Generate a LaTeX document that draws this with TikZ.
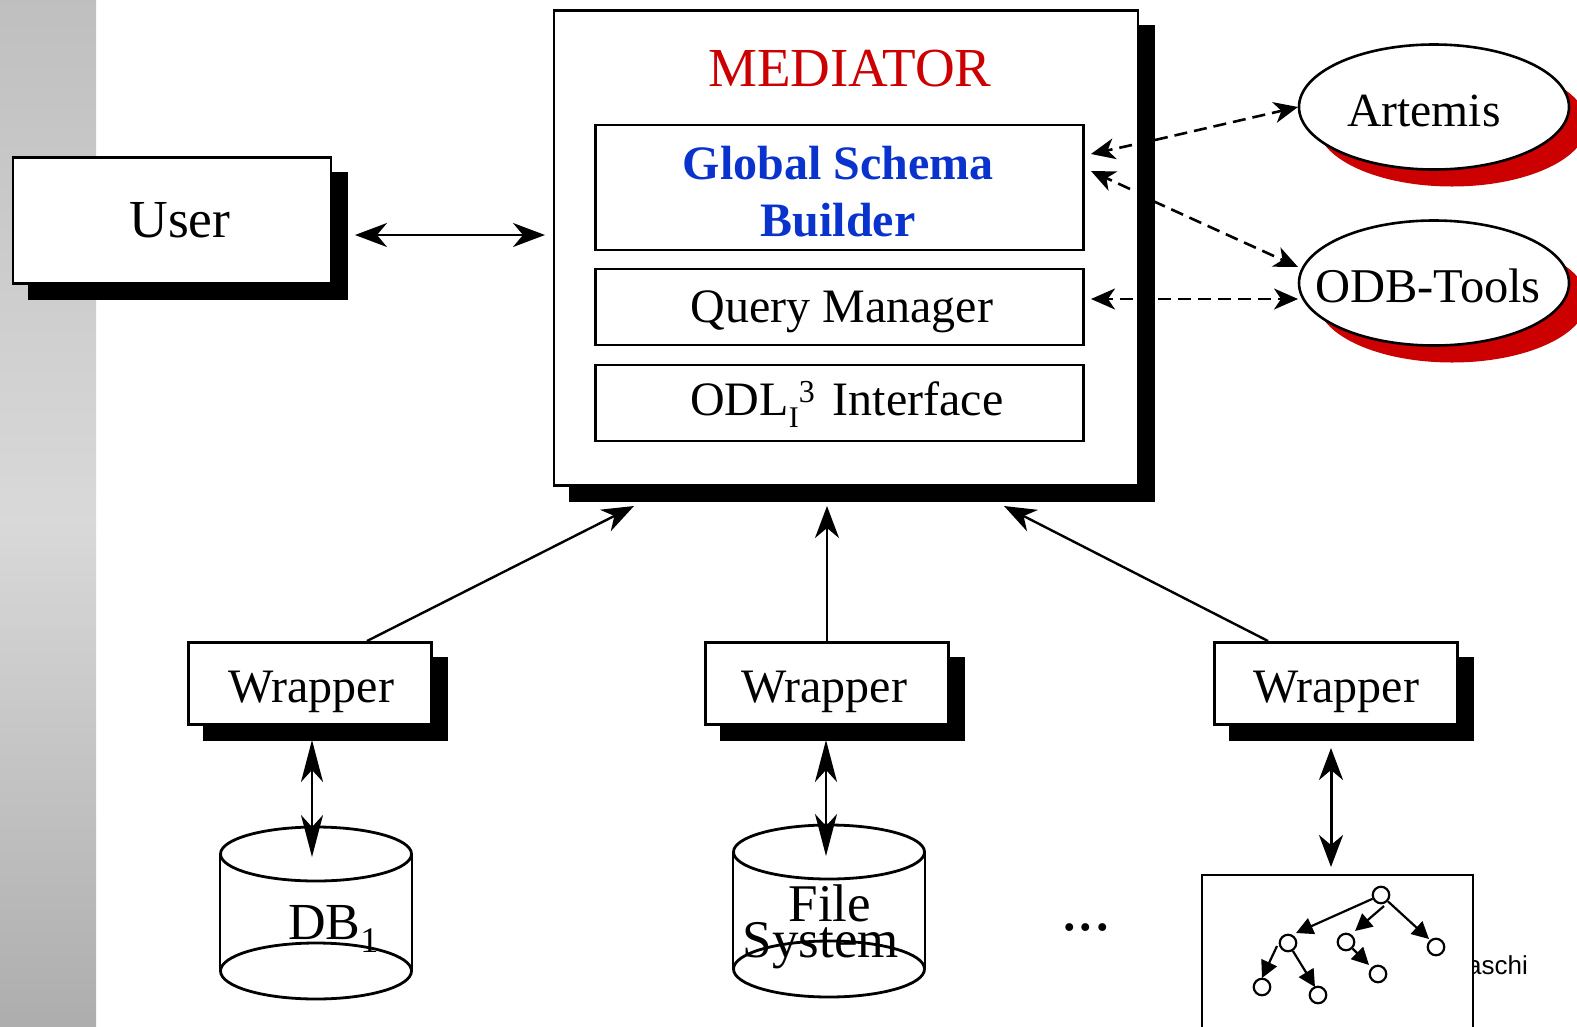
\documentclass[tikz,border=0pt]{standalone}
\usepackage{fontspec}
\setmainfont{Liberation Serif}
\newfontfamily\sansf{Liberation Sans}
\usetikzlibrary{arrows.meta,shapes.geometric,shadings}
\definecolor{medred}{RGB}{204,0,0}
\definecolor{gsblue}{RGB}{10,50,205}
\tikzset{
  box/.style={draw=black,line width=2.8pt,fill=white,inner sep=0pt,anchor=north west},
  shadowbox/.style={fill=black,draw=none,inner sep=0pt,anchor=north west},
  ell/.style={ellipse,draw=black,line width=2.6pt,fill=white,inner sep=0pt,minimum width=270pt,minimum height=125pt},
  ellshadow/.style={ellipse,fill=medred,draw=none,inner sep=0pt,minimum width=270pt,minimum height=125pt},
  lab/.style={inner sep=0pt},
  bighead/.tip={Stealth[inset=10pt,length=32pt,width=24pt]},
  longhead/.tip={Stealth[inset=12pt,length=42pt,width=22pt]},
  dashhead/.tip={Stealth[inset=7pt,length=24pt,width=21pt]},
  conn/.style={line width=2.4pt,{bighead}-{bighead}},
  connone/.style={line width=2.4pt,-{bighead}},
  connlong/.style={line width=2.4pt,{longhead}-{longhead}},
  dashend/.style={line width=2.6pt,dash pattern=on 13pt off 7pt,-{dashhead}},
  tip/.style={line width=2.2pt,-{Triangle[length=17pt,width=17pt]}},
  cir/.style={circle,draw=black,line width=2.2pt,fill=white,minimum size=16.5pt,inner sep=0pt},
  cyl/.style={line width=2.8pt}
}
\newcommand{\sizedbox}[5]{% name x y w h
  \pgfmathsetmacro{\sbw}{#4+2}\pgfmathsetmacro{\sbh}{#5+2}
  \node[shadowbox,minimum width=\sbw pt,minimum height=\sbh pt] at (#2+16,#3+16) {};
  \node[box,minimum width=#4 pt,minimum height=#5 pt] (#1) at (#2,#3) {};
}
\begin{document}
\begin{tikzpicture}[x=1pt,y=-1pt]
\useasboundingbox (0,0) rectangle (1577,1026);
\fill[white] (0,0) rectangle (1577,1026);
% left band
\shade[top color=black!25,bottom color=black!15,draw=none] (0,0) rectangle (96,520);
\shade[top color=black!15,bottom color=black!32,draw=none] (0,520) rectangle (96,1026);
% footer residue
\node[font=\sansf\fontsize{26}{26}\selectfont,anchor=base east,inner sep=0pt] (foot) at (1528,974) {aschi};
% mediator
\sizedbox{med}{552.5}{9}{584}{475}
\node[lab,font=\fontsize{55}{55}\selectfont,text=medred] (medt) at (850,69) {MEDIATOR};
\node[box,minimum width=488pt,minimum height=125pt] (gsb) at (594,123.5) {};
\node[font=\bfseries\fontsize{48}{48}\selectfont,text=gsblue,inner sep=0pt] (gsb1) at (838,163) {Global Schema};
\node[font=\bfseries\fontsize{48}{48}\selectfont,text=gsblue,inner sep=0pt] (gsb2) at (838,220) {Builder};
\node[box,minimum width=488pt,minimum height=76pt] (qm) at (594,267.5) {};
\node[lab,font=\fontsize{48}{48}\selectfont] (qmt) at (842,312) {Query Manager};
\node[box,minimum width=488pt,minimum height=76pt] (odl) at (594,363.5) {};
\node[lab,font=\fontsize{48}{48}\selectfont,anchor=base west] (odlt) at (690,415) {ODL\raisebox{-12pt}{\fontsize{30}{30}\selectfont I}\raisebox{13pt}{\fontsize{32}{32}\selectfont 3}\hspace{18pt}Interface};
% user
\sizedbox{user}{11.5}{156}{318}{126}
\node[lab,font=\fontsize{53.5}{53.5}\selectfont] (usert) at (180,220) {User};
% ellipses
\node[ellshadow] (arts) at (1452,124) {};
\node[ell] (art) at (1434,107) {};
\node[lab,font=\fontsize{47.6}{47.6}\selectfont] (artt) at (1424,111) {Artemis};
\node[ellshadow] (odbs) at (1452,300) {};
\node[ell] (odb) at (1434,283) {};
\node[lab,font=\fontsize{48.5}{48.5}\selectfont] (odbt) at (1428,286) {ODB-Tools};
% wrappers
\sizedbox{w1}{187}{641}{243}{82}
\sizedbox{w2}{704}{641}{243}{82}
\sizedbox{w3}{1213}{641}{243}{82}
\node[lab,font=\fontsize{48}{48}\selectfont] (w1t) at (311,692) {Wrapper};
\node[lab,font=\fontsize{48}{48}\selectfont] (w2t) at (824,692) {Wrapper};
\node[lab,font=\fontsize{48}{48}\selectfont] (w3t) at (1336,692) {Wrapper};
% cylinder DB
\draw[cyl] (220,854) -- (220,970) (412,854) -- (412,970);
\draw[cyl] (316,854) ellipse [x radius=95.5pt,y radius=27pt];
\draw[cyl] (316,971) ellipse [x radius=95.5pt,y radius=28pt];
\node[lab,font=\fontsize{52}{52}\selectfont,anchor=base west] (db) at (288,939) {DB\raisebox{-13pt}{\fontsize{36}{36}\selectfont 1}};
% cylinder FS
\draw[cyl] (733,852) -- (733,968) (925,852) -- (925,968);
\draw[cyl] (829,852) ellipse [x radius=95.5pt,y radius=27pt];
\draw[cyl] (829,969) ellipse [x radius=95.5pt,y radius=28pt];
\node[lab,font=\fontsize{53}{53}\selectfont] (fs1) at (830,903) {File};
\node[lab,font=\fontsize{53}{53}\selectfont] (fs2) at (821,946) {System};
% ellipsis
\node[lab,font=\fontsize{66}{66}\selectfont,anchor=base] (dots) at (1086,930) {...};
% tree box
\draw[line width=2.4pt,fill=white] (1202,1030) |- (1473,875) -- (1473,1030);
\coordinate (treebox) at (1331,875);
\node[cir] (t0) at (1381,895) {};
\node[cir] (t1) at (1288,943) {};
\node[cir] (t2) at (1262,987) {};
\node[cir] (t3) at (1318,995) {};
\node[cir] (t4) at (1346,942) {};
\node[cir] (t5) at (1378,974) {};
\node[cir] (t6) at (1436,947) {};
\coordinate (t1e) at (1296,933);
\coordinate (t6e) at (1429,939);
\coordinate (t3e) at (1315,987);
\coordinate (t2s) at (1277,946);
\coordinate (t2e) at (1262,978);
\coordinate (t5e) at (1369,965);
\coordinate (a1) at (1384,906);
\coordinate (a2) at (1355,931);
\draw[tip] (t0) -- (t1e);
\draw[tip] (a1) -- (a2);
\draw[tip] (t0) -- (t6e);
\draw[tip] (t2s) -- (t2e);
\draw[tip] (t1) -- (t3e);
\draw[tip] (t4) -- (t5e);
% connectors
\coordinate (u1) at (355,235);
\coordinate (u2) at (545,235);
\draw[conn] (u1) -- (u2);
\coordinate (w1a) at (367,641);
\coordinate (w1b) at (634,506);
\draw[connone] (w1a) -- (w1b);
\coordinate (w2a) at (827,641);
\coordinate (w2b) at (827,506);
\draw[connone] (w2a) -- (w2b);
\coordinate (w3a) at (1268,641);
\coordinate (w3b) at (1004,506);
\draw[connone] (w3a) -- (w3b);
\coordinate (d1a) at (312,740);
\coordinate (d1b) at (312,857);
\draw[connlong] (d1a) -- (d1b);
\coordinate (d2a) at (826,740);
\coordinate (d2b) at (826,856);
\draw[connlong] (d2a) -- (d2b);
\coordinate (d3a) at (1331,748);
\coordinate (d3b) at (1331,867);
\draw[conn,line width=3pt] (d3a) -- (d3b);
% dashed
\coordinate (ga) at (1091,154);
\coordinate (gb) at (1091,171);
\coordinate (gc) at (1091,299);
\coordinate (ap) at (1298,107);
\coordinate (op1) at (1298,267);
\coordinate (op2) at (1298,299);
\draw[dashend] (1132,145) -- (ga);
\draw[dashend] (1155,140) -- (ap);
\draw[dashend] (1130,189) -- (gb);
\draw[dashend] (1153,201) -- (op1);
\draw[dashend] (1133,299) -- (gc);
\draw[dashend] (1158,299) -- (op2);
\end{tikzpicture}
\end{document}
